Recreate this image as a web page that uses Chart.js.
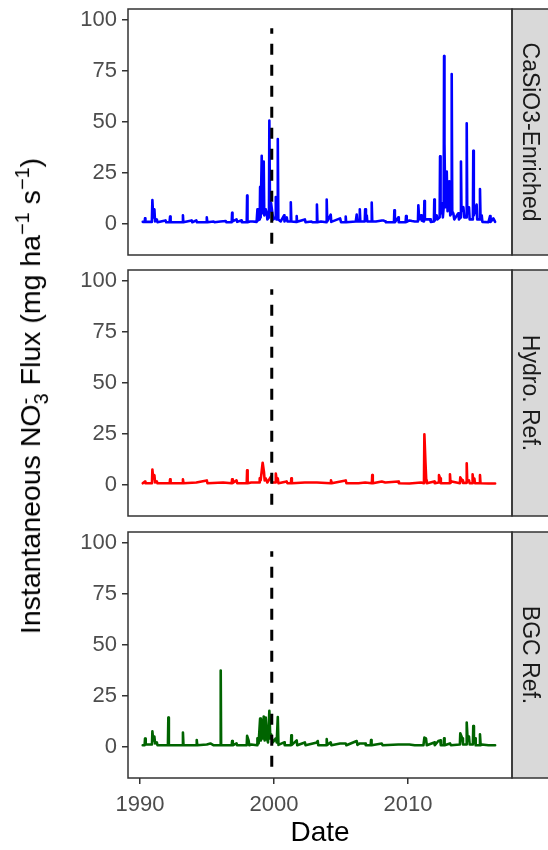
<!DOCTYPE html>
<html>
<head>
<meta charset="utf-8">
<script src="https://cdn.jsdelivr.net/npm/chart.js@4.4.1/dist/chart.umd.min.js"></script>
<style>
  body { margin: 0; background: #fff; }
  #wrap { position: relative; width: 548px; height: 850px; font-family: "Liberation Sans", Arial, sans-serif; }
  canvas { position: absolute; left: 0; }
  #ytitle {
    position: absolute; left: 32px; top: 396px;
    transform: translate(-50%, -50%) rotate(-90deg);
    white-space: nowrap; font-size: 28.5px; color: #000;
  }
  #ytitle sup { font-size: 0.7em; vertical-align: 0.55em; line-height: 0; }
  .stk { display: inline-block; font-size: 0.7em; line-height: 0.8; vertical-align: -0.4em; }
  .stk span { display: block; }
</style>
</head>
<body>
<div id="wrap">
  <canvas id="p1" width="548" height="262" style="top:0"></canvas>
  <canvas id="p2" width="548" height="262" style="top:262px"></canvas>
  <canvas id="p3" width="548" height="326" style="top:524px"></canvas>
  <div id="ytitle">Instantaneous NO<span class="stk"><span>-</span><span>3</span></span> Flux (mg ha<sup>−1</sup> s<sup>−1</sup>)</div>
</div>
<script>
// Axis ticks
const xTicks = [1990, 2000, 2010];
const yTicks = [0, 25, 50, 75, 100];

// Treatment date (dashed line) and its vertical extent
const treatmentYear = 1999.83;
const treatmentSpan = [-10, 96];

// Panel labels
const panelLabels = ['CaSiO3-Enriched', 'Hydro. Ref.', 'BGC Ref.'];

// Flux series, [decimal year, flux]
const casio3 = [
  [1990.20, 0.8], [1990.35, 0.8], [1990.37, 2.5], [1990.40, 0.8],
  [1990.88, 0.8], [1990.92, 11.5], [1990.98, 3], [1991.07, 7], [1991.12, 1], [1991.25, 2], [1991.30, 0.6],
  [1991.90, 1.5], [1991.95, 0.6],
  [1992.20, 0.6], [1992.24, 3.4], [1992.28, 0.6],
  [1993.17, 0.6], [1993.20, 4], [1993.23, 0.6],
  [1993.85, 1.5], [1993.90, 0.6], [1994.20, 1.5], [1994.25, 0.6],
  [1994.95, 0.6], [1994.98, 3], [1995.02, 0.6],
  [1995.50, 1], [1995.55, 0.6], [1996.00, 1], [1996.40, 1.2], [1996.45, 0.6],
  [1996.84, 0.6], [1996.87, 5.3], [1996.90, 1],
  [1997.20, 2], [1997.25, 0.8], [1997.54, 1.5], [1997.60, 0.6],
  [1997.96, 0.6], [1997.99, 13.7], [1998.02, 0.6],
  [1998.20, 1], [1998.40, 1], [1998.70, 0.8], [1998.76, 7], [1998.80, 1.5],
  [1998.93, 2], [1998.96, 18], [1999.00, 3], [1999.08, 33.3], [1999.12, 5], [1999.23, 30.5], [1999.27, 4],
  [1999.38, 7], [1999.46, 5], [1999.50, 2], [1999.62, 3], [1999.65, 50.6], [1999.70, 6], [1999.78, 10],
  [1999.88, 5], [1999.95, 2], [2000.10, 3], [2000.13, 13], [2000.18, 2], [2000.25, 2], [2000.28, 41.5], [2000.32, 2],
  [2000.50, 1], [2000.75, 4], [2000.78, 1], [2000.95, 3], [2001.00, 1],
  [2001.22, 1], [2001.25, 10.4], [2001.29, 1],
  [2001.66, 0.8], [2001.69, 3.6], [2001.72, 0.8],
  [2002.30, 2], [2002.35, 0.6], [2002.80, 1], [2002.85, 0.6],
  [2003.17, 0.6], [2003.20, 9.3], [2003.24, 0.6], [2003.50, 1],
  [2003.90, 0.6], [2003.93, 11.8], [2003.97, 1], [2004.23, 4.4], [2004.27, 0.8],
  [2004.93, 2.5], [2005.00, 0.6],
  [2005.32, 0.6], [2005.35, 3.4], [2005.38, 0.6],
  [2006.10, 1], [2006.17, 4.4], [2006.22, 1], [2006.37, 1], [2006.40, 7], [2006.44, 1],
  [2006.77, 1], [2006.80, 7], [2006.86, 3], [2006.92, 4], [2006.96, 1],
  [2007.26, 1], [2007.29, 10.3], [2007.33, 1], [2007.60, 1],
  [2008.05, 1.5], [2008.15, 1.5], [2008.30, 1], [2008.35, 0.6],
  [2008.95, 0.6], [2008.98, 6.5], [2009.02, 0.6], [2009.27, 3], [2009.31, 0.6],
  [2009.82, 0.6], [2009.85, 3.6], [2009.90, 0.8],
  [2010.10, 1.5], [2010.30, 1.2], [2010.50, 1],
  [2010.74, 1], [2010.77, 9], [2010.83, 2], [2010.97, 4], [2011.02, 1.5],
  [2011.19, 1], [2011.22, 11], [2011.26, 2], [2011.64, 2], [2011.70, 0.8],
  [2011.93, 1], [2011.96, 11.8], [2012.00, 1.5], [2012.14, 4], [2012.20, 2],
  [2012.36, 3], [2012.39, 33], [2012.43, 5], [2012.51, 10], [2012.60, 3], [2012.66, 8], [2012.69, 82.4],
  [2012.72, 39.5], [2012.78, 8], [2012.89, 25.6], [2012.95, 6], [2013.08, 20.7], [2013.15, 4],
  [2013.23, 5], [2013.26, 73.5], [2013.30, 6], [2013.38, 5], [2013.45, 2], [2013.75, 5], [2013.80, 2],
  [2013.92, 3], [2013.95, 30.5], [2013.99, 6], [2014.13, 8], [2014.20, 3],
  [2014.35, 3], [2014.38, 49.3], [2014.42, 5], [2014.55, 8], [2014.60, 2],
  [2014.84, 2], [2014.87, 35.8], [2014.91, 4], [2015.12, 9.3], [2015.16, 2],
  [2015.34, 2], [2015.37, 17], [2015.41, 3], [2015.50, 4], [2015.55, 0.8],
  [2016.00, 0.6], [2016.12, 3.6], [2016.16, 0.8], [2016.37, 2.5], [2016.50, 0.8]
];

const hydroRef = [
  [1990.20, 0.6], [1990.37, 1.5], [1990.40, 0.6],
  [1990.89, 0.6], [1990.92, 7.4], [1990.98, 3], [1991.07, 4.6], [1991.12, 1], [1991.25, 1.5], [1991.30, 0.6],
  [1992.21, 0.6], [1992.24, 2.5], [1992.28, 0.6],
  [1993.17, 0.6], [1993.20, 2.5], [1993.24, 0.6],
  [1994.20, 1], [1994.98, 2], [1995.03, 0.6],
  [1996.20, 1], [1996.84, 0.6], [1996.87, 2.6], [1996.92, 0.8], [1997.20, 2], [1997.25, 0.6],
  [1997.96, 0.6], [1997.99, 7], [1998.03, 0.6], [1998.30, 1],
  [1998.90, 1], [1998.93, 3], [1999.00, 2], [1999.15, 10.7], [1999.25, 6], [1999.30, 2], [1999.38, 3],
  [1999.50, 1], [1999.78, 4], [1999.85, 1],
  [2000.10, 1], [2000.13, 5.4], [2000.20, 2], [2000.28, 3], [2000.33, 0.6],
  [2000.94, 1.5], [2001.00, 0.6], [2001.26, 0.6], [2001.29, 3], [2001.33, 0.6],
  [2002.30, 1], [2003.20, 1], [2004.22, 0.6], [2004.25, 2], [2004.30, 0.6],
  [2005.35, 2], [2005.40, 0.6], [2006.30, 0.6], [2006.80, 1],
  [2007.30, 0.6], [2007.33, 4.6], [2007.37, 0.6],
  [2008.04, 1.5], [2008.30, 1], [2009.27, 1.5], [2009.32, 0.6], [2010.10, 0.5], [2010.97, 1],
  [2011.19, 0.6], [2011.22, 24.7], [2011.30, 11], [2011.36, 2], [2011.40, 0.6],
  [2011.96, 1.5], [2012.00, 0.6],
  [2012.28, 1], [2012.31, 4.6], [2012.40, 3], [2012.45, 0.6],
  [2013.10, 0.6], [2013.13, 5], [2013.17, 0.8], [2013.26, 1.5],
  [2013.87, 0.6], [2013.90, 3.5], [2014.05, 2], [2014.10, 0.8],
  [2014.35, 0.8], [2014.38, 10.4], [2014.42, 1.5], [2014.55, 2], [2014.60, 0.6],
  [2014.79, 0.6], [2014.82, 5], [2014.88, 1.5], [2014.95, 3], [2015.00, 0.6],
  [2015.34, 0.6], [2015.37, 4.6], [2015.41, 0.6],
  [2016.00, 0.5], [2016.50, 0.5]
];

const bgcRef = [
  [1990.20, 0.6], [1990.34, 0.6], [1990.37, 3.9], [1990.42, 1], [1990.60, 1],
  [1990.89, 1], [1990.92, 7.5], [1990.98, 3], [1991.07, 4.9], [1991.12, 1.5], [1991.25, 2], [1991.30, 0.6],
  [1992.08, 0.6], [1992.11, 14.2], [1992.15, 0.6],
  [1993.17, 0.6], [1993.20, 6.9], [1993.24, 0.6],
  [1994.20, 0.6], [1994.23, 3.2], [1994.27, 0.6],
  [1994.98, 1], [1995.25, 1.5], [1995.50, 0.6],
  [1995.99, 0.6], [1996.02, 37.4], [1996.05, 0.6],
  [1996.84, 0.6], [1996.87, 2.7], [1996.92, 0.6], [1997.20, 1.5], [1997.25, 0.6],
  [1997.96, 0.6], [1997.99, 5.2], [1998.10, 3], [1998.15, 0.6], [1998.30, 1],
  [1998.73, 0.6], [1998.76, 4], [1998.85, 1.5], [1998.96, 13.7], [1999.02, 3], [1999.08, 13], [1999.15, 4],
  [1999.23, 14.7], [1999.30, 3], [1999.38, 14.2], [1999.46, 4], [1999.55, 2], [1999.65, 17.5], [1999.72, 4],
  [1999.78, 6], [1999.90, 2], [2000.13, 4], [2000.20, 2], [2000.28, 14.5], [2000.33, 0.8],
  [2000.75, 2], [2000.80, 0.6], [2001.26, 0.6], [2001.29, 5.5], [2001.33, 0.8], [2001.69, 3], [2001.73, 0.6],
  [2002.30, 2], [2002.35, 0.6], [2003.20, 2], [2003.26, 2.7], [2003.30, 0.6],
  [2003.90, 0.6], [2003.93, 3.6], [2003.97, 0.8], [2004.23, 2], [2004.28, 0.6],
  [2004.93, 1.5], [2005.35, 1.5], [2005.40, 0.6],
  [2006.17, 2.7], [2006.22, 0.8], [2006.40, 1.5], [2006.80, 1.5], [2006.85, 0.6],
  [2007.21, 0.6], [2007.24, 3.2], [2007.28, 0.6],
  [2008.04, 1.5], [2008.10, 0.6], [2009.27, 1], [2010.10, 1], [2010.50, 0.6],
  [2011.15, 0.6], [2011.22, 4.4], [2011.34, 4], [2011.40, 0.6],
  [2011.96, 2], [2012.00, 0.6], [2012.26, 2.7], [2012.40, 3], [2012.45, 0.6],
  [2012.66, 0.6], [2012.69, 4], [2012.73, 0.6], [2013.13, 1.5], [2013.20, 0.6],
  [2013.87, 1], [2013.90, 6.5], [2014.05, 4], [2014.10, 1],
  [2014.35, 1], [2014.38, 11.8], [2014.45, 3], [2014.55, 4.9], [2014.60, 1],
  [2014.84, 1], [2014.87, 10.1], [2014.92, 2], [2015.00, 4], [2015.05, 0.6],
  [2015.34, 0.6], [2015.37, 6], [2015.42, 0.6], [2015.50, 1], [2016.00, 0.6], [2016.50, 0.6]
];

const seriesColors = ['#0000ff', '#ff0000', '#006400'];

const FONT = '"Liberation Sans", Arial, sans-serif';

// Panel border + grey facet strip with rotated label
const panelFrame = {
  id: 'panelFrame',
  afterDraw(chart, args, opts) {
    const { ctx, chartArea: a } = chart;
    ctx.save();
    ctx.fillStyle = '#d9d9d9';
    ctx.fillRect(a.right, a.top, 40, a.bottom - a.top);
    ctx.strokeStyle = '#333333';
    ctx.lineWidth = 1.5;
    ctx.strokeRect(a.right, a.top, 40, a.bottom - a.top);
    ctx.strokeRect(a.left, a.top, a.right - a.left, a.bottom - a.top);
    ctx.translate(a.right + 11, (a.top + a.bottom) / 2);
    ctx.rotate(Math.PI / 2);
    ctx.fillStyle = '#1a1a1a';
    ctx.font = '23px ' + FONT;
    ctx.textAlign = 'center';
    ctx.textBaseline = 'alphabetic';
    ctx.fillText(opts.label, 0, 0);
    ctx.restore();
  }
};

function makePanel(id, idx, series, pad, showX) {
  new Chart(document.getElementById(id), {
    type: 'line',
    data: {
      datasets: [
        {
          data: [{ x: treatmentYear, y: treatmentSpan[0] }, { x: treatmentYear, y: treatmentSpan[1] }],
          borderColor: '#000',
          borderWidth: 3,
          borderDash: [11, 10],
          order: 0
        },
        {
          data: series.map(d => ({ x: d[0], y: d[1] })),
          borderColor: seriesColors[idx],
          borderWidth: 2.6,
          borderJoinStyle: 'round',
          borderCapStyle: 'round',
          order: 1
        }
      ]
    },
    options: {
      responsive: false,
      animation: false,
      events: [],
      layout: { autoPadding: false, padding: { left: 0, right: 36, top: pad[0], bottom: pad[1] } },
      elements: { point: { radius: 0 }, line: { tension: 0 } },
      plugins: {
        legend: { display: false },
        tooltip: { enabled: false },
        panelFrame: { label: panelLabels[idx] }
      },
      scales: {
        x: {
          type: 'linear',
          min: 1989.1,
          max: 2017.76,
          display: showX,
          afterBuildTicks: s => { s.ticks = xTicks.map(v => ({ value: v })); },
          afterFit: s => {
            s.height = showX ? 72 : 0;
            s.paddingLeft = 0; s.paddingRight = 0;
          },
          grid: { drawOnChartArea: false, tickLength: 6, color: '#333333', lineWidth: 1.5 },
          border: { display: false },
          ticks: { font: { family: FONT, size: 22 }, color: '#4d4d4d', padding: 8, maxRotation: 0, callback: v => String(v) },
          title: { display: true, text: 'Date', font: { family: FONT, size: 28 }, color: '#000', padding: { top: 0, bottom: 0 } }
        },
        y: {
          min: -15.5,
          max: 105.5,
          afterBuildTicks: s => { s.ticks = yTicks.map(v => ({ value: v })); },
          afterFit: s => {
            s.width = 128;
            s.paddingTop = 0; s.paddingBottom = 0;
          },
          grid: { drawOnChartArea: false, tickLength: 6, color: '#333333', lineWidth: 1.5 },
          border: { display: false },
          ticks: { font: { family: FONT, size: 22 }, color: '#4d4d4d', padding: 5, callback: v => String(v) }
        }
      }
    },
    plugins: [panelFrame]
  });
}

makePanel('p1', 0, casio3, [9, 7], false);
makePanel('p2', 1, hydroRef, [8, 8], false);
makePanel('p3', 2, bgcRef, [8, 0], true);
</script>
</body>
</html>
